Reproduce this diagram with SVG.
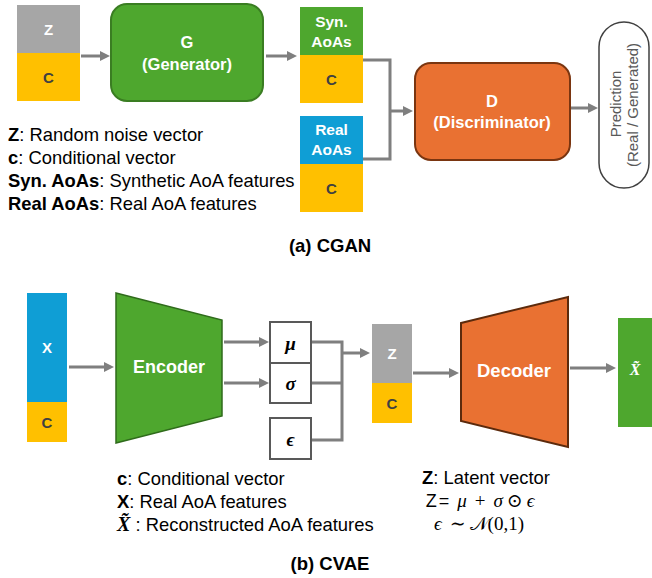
<svg xmlns="http://www.w3.org/2000/svg" width="652" height="578" viewBox="0 0 652 578">
<defs>
<marker id="ah" viewBox="0 0 10 10" refX="2" refY="5" markerWidth="10" markerHeight="10" markerUnits="userSpaceOnUse" orient="auto"><path d="M0,0 L10,5 L0,10 z" fill="#7f7f7f"/></marker>
<style>
.arr{fill:none;stroke:#7f7f7f;stroke-width:3;marker-end:url(#ah)}
.ln{fill:none;stroke:#7f7f7f;stroke-width:3}
.wb{font-family:"Liberation Sans",Arial,sans-serif;font-weight:bold;fill:#fff;text-anchor:middle}
.db{font-family:"Liberation Sans",Arial,sans-serif;font-weight:bold;fill:#404040;text-anchor:middle}
.leg{font-family:"Liberation Sans",Arial,sans-serif;font-size:18.4px;fill:#000}
.b{font-weight:bold}
.gray{fill:#a6a6a6}.yel{fill:#ffc000}.grn{fill:#4ea72e}.blu{fill:#0f9ed5}
.math{font-family:"Liberation Serif","DejaVu Serif",serif;font-size:19px;fill:#000}
.title{font-family:"Liberation Sans",Arial,sans-serif;font-weight:bold;font-size:18.5px;fill:#000;text-anchor:middle}
</style>
</defs>
<rect width="652" height="578" fill="#fff"/>

<g id="connectors">
<path class="arr" d="M81 56 H102"/>
<path class="arr" d="M266 56 H289"/>
<path class="ln" d="M363 60 H390 V159 H363"/>
<path class="arr" d="M390 111 H405"/>
<path class="arr" d="M571 108 H590"/>
<path class="arr" d="M69 367 H106"/>
<path class="arr" d="M224 342 H261"/>
<path class="arr" d="M224 383 H261"/>
<path class="ln" d="M311 342 H342 V440 H311 M311 383 H342"/>
<path class="arr" d="M342 353 H362"/>
<path class="arr" d="M413 373 H451"/>
<path class="arr" d="M570 368 H608"/>
</g>

<g id="zc-top">
<rect class="gray" x="17" y="5" width="63" height="48"/>
<rect class="yel" x="17" y="53" width="63" height="48"/>
<text class="wb" x="48.5" y="35" font-size="15">Z</text>
<text class="db" x="48.5" y="83" font-size="15">C</text>
</g>

<g id="generator">
<rect x="111" y="4" width="152" height="97" rx="16" fill="#4ea72e" stroke="#3a7d22" stroke-width="2"/>
<text class="wb" x="187" y="48" font-size="16.5">G</text>
<text class="wb" x="187" y="70" font-size="16.5">(Generator)</text>
</g>

<g id="syn-aoas">
<rect class="grn" x="300" y="7" width="63" height="48"/>
<rect class="yel" x="300" y="55" width="63" height="48"/>
<text class="wb" x="331.5" y="27" font-size="15.5">Syn.</text>
<text class="wb" x="331.5" y="47" font-size="15.5">AoAs</text>
<text class="db" x="331.5" y="85" font-size="15">C</text>
</g>

<g id="real-aoas">
<rect class="blu" x="300" y="116" width="63" height="48"/>
<rect class="yel" x="300" y="164" width="63" height="48"/>
<text class="wb" x="331.5" y="135" font-size="15.5">Real</text>
<text class="wb" x="331.5" y="155" font-size="15.5">AoAs</text>
<text class="db" x="331.5" y="194" font-size="15">C</text>
</g>

<g id="discriminator">
<rect x="415" y="63" width="155" height="97" rx="16" fill="#e97132" stroke="#7a3510" stroke-width="2"/>
<text class="wb" x="492" y="107" font-size="16.5">D</text>
<text class="wb" x="492" y="128" font-size="16.5">(Discriminator)</text>
</g>

<g id="prediction">
<rect x="599" y="22" width="50" height="166" rx="25" fill="#fff" stroke="#404040" stroke-width="1.5"/>
<text transform="translate(621,104) rotate(-90)" text-anchor="middle" font-family="Liberation Sans,Arial,sans-serif" font-size="15" fill="#595959">Prediction</text>
<text transform="translate(638,105) rotate(-90)" text-anchor="middle" font-family="Liberation Sans,Arial,sans-serif" font-size="15" fill="#595959">(Real / Generated)</text>
</g>

<g id="legend-a">
<text class="leg" x="8" y="141"><tspan class="b">Z</tspan>: Random noise vector</text>
<text class="leg" x="8" y="164"><tspan class="b">c</tspan>: Conditional vector</text>
<text class="leg" x="8" y="187"><tspan class="b">Syn. AoAs</tspan>: Synthetic AoA features</text>
<text class="leg" x="8" y="210"><tspan class="b">Real AoAs</tspan>: Real AoA features</text>
</g>

<text id="title-a" class="title" x="330" y="252">(a) CGAN</text>

<g id="xc-input">
<rect class="blu" x="27" y="293" width="40" height="109"/>
<rect class="yel" x="27" y="402" width="40" height="40"/>
<text class="wb" x="47" y="353" font-size="15">X</text>
<text class="db" x="47" y="428" font-size="15">C</text>
</g>

<g id="encoder">
<polygon points="116,293 222,320 222,416 116,443" fill="#4ea72e" stroke="#2f6b1b" stroke-width="1.5"/>
<text class="wb" x="169" y="373" font-size="18">Encoder</text>
</g>

<g id="mu">
<rect x="270" y="322" width="41" height="41" fill="#fff" stroke="#595959" stroke-width="2"/>
<text class="math" x="290.5" y="350" text-anchor="middle" font-style="italic" font-weight="bold" font-size="20">μ</text>
</g>
<g id="sigma">
<rect x="270" y="363" width="41" height="40" fill="#fff" stroke="#595959" stroke-width="2"/>
<text class="math" x="290.5" y="390" text-anchor="middle" font-style="italic" font-weight="bold" font-size="20">σ</text>
</g>
<g id="epsilon">
<rect x="270" y="418" width="41" height="41" fill="#fff" stroke="#595959" stroke-width="2"/>
<text class="math" x="290.5" y="446" text-anchor="middle" font-style="italic" font-weight="bold" font-size="20">ϵ</text>
</g>

<g id="zc-latent">
<rect class="gray" x="372" y="324" width="40" height="59"/>
<rect class="yel" x="372" y="383" width="40" height="40"/>
<text class="wb" x="392" y="359" font-size="15">Z</text>
<text class="db" x="392" y="409" font-size="15">C</text>
</g>

<g id="decoder">
<polygon points="461,323 568,297 568,447 461,421" fill="#e97132" stroke="#5c2a0c" stroke-width="2"/>
<text class="wb" x="514" y="377" font-size="18.5">Decoder</text>
</g>

<g id="x-recon">
<rect class="grn" x="618" y="318" width="34" height="109"/>
<text x="635" y="375" text-anchor="middle" font-family="Liberation Serif,DejaVu Serif,serif" font-style="italic" font-weight="bold" font-size="16" fill="#fff">X̃</text>
</g>

<g id="legend-b">
<text class="leg" x="117" y="485"><tspan class="b">c</tspan>: Conditional vector</text>
<text class="leg" x="117" y="508"><tspan class="b">X</tspan>: Real AoA features</text>
<text class="leg" x="117" y="531"><tspan font-family="Liberation Serif,DejaVu Serif,serif" font-style="italic" font-weight="bold" font-size="20">X̃</tspan> : Reconstructed AoA features</text>
<text class="leg" x="486" y="484" text-anchor="middle"><tspan class="b">Z</tspan>: Latent vector</text>
<text class="math" x="480" y="507" text-anchor="middle"><tspan font-family="Liberation Sans,Arial,sans-serif" font-size="18">Z</tspan><tspan dx="2" font-family="Liberation Sans,Arial,sans-serif" font-size="18">=</tspan><tspan dx="8" font-style="italic">μ</tspan><tspan dx="8">+</tspan><tspan dx="8" font-style="italic">σ</tspan><tspan dx="4">⊙</tspan><tspan dx="4" font-style="italic">ϵ</tspan></text>
<text class="math" x="479" y="530" text-anchor="middle"><tspan font-style="italic">ϵ</tspan><tspan dx="8">∼</tspan><tspan dx="4">𝒩(0,1)</tspan></text>
</g>

<text id="title-b" class="title" x="330" y="570">(b) CVAE</text>
</svg>
